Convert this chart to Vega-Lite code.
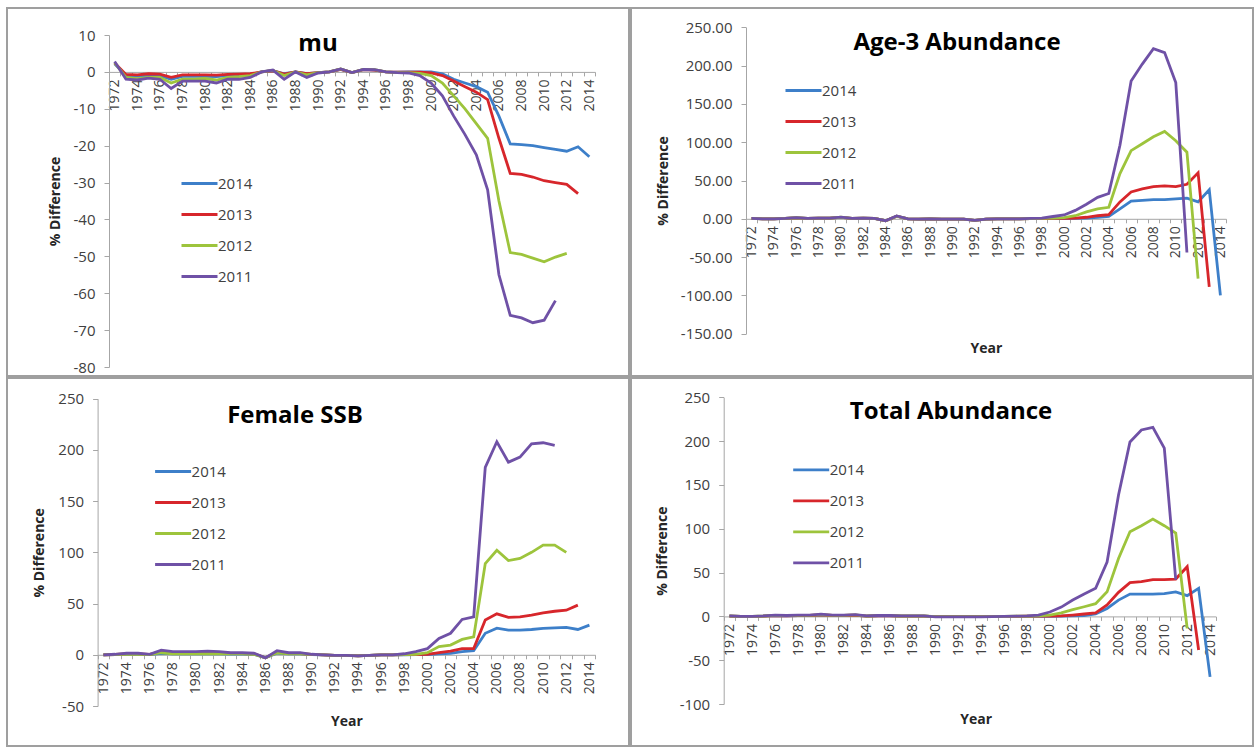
{
  "$schema": "https://vega.github.io/schema/vega-lite/v6.json",
  "padding": {"left": 6, "top": 7, "right": 0, "bottom": 0},
  "background": "white",
  "config": {
    "view": {"stroke": "#9f9f9f", "strokeWidth": 2},
    "font": "Open Sans",
    "axis": {"grid": false, "domainColor": "#a6a6a6", "tickColor": "#a6a6a6", "labelFont": "Open Sans", "labelColor": "#404040", "titleFont": "Open Sans", "titleFontWeight": "bold", "titleFontSize": 14, "titleColor": "#262626"},
    "axisY": {"tickSize": 5, "labelPadding": 9, "labelFontSize": 15, "titleBaseline": "middle"},
    "axisX": {"labelFontSize": 14},
    "legend": {"orient": "none", "title": null, "symbolType": "stroke", "symbolSize": 1296, "symbolStrokeWidth": 3, "labelFontSize": 15, "labelFont": "Open Sans", "labelColor": "#404040", "labelOffset": -1, "padding": 0, "rowPadding": 3},
    "title": {"font": "Open Sans", "fontSize": 24, "fontWeight": "bold", "color": "#000000", "frame": "group", "anchor": "middle", "baseline": "alphabetic"},
    "line": {"strokeWidth": 2.8}
  },
  "datasets": {
    "p1": [
      {"Year":1972,"2014":2.2,"2013":2.4,"2012":2.5,"2011":2.8},
      {"Year":1973,"2014":-1,"2013":-0.7,"2012":-1.5,"2011":-2},
      {"Year":1974,"2014":-1.2,"2013":-0.8,"2012":-1.8,"2011":-2.2},
      {"Year":1975,"2014":-1,"2013":-0.5,"2012":-1.5,"2011":-1.7},
      {"Year":1976,"2014":-1,"2013":-0.6,"2012":-1.5,"2011":-2},
      {"Year":1977,"2014":-2,"2013":-1.5,"2012":-3,"2011":-4.5},
      {"Year":1978,"2014":-1.2,"2013":-0.8,"2012":-2,"2011":-2.5},
      {"Year":1979,"2014":-1.2,"2013":-0.8,"2012":-2,"2011":-2.5},
      {"Year":1980,"2014":-1.2,"2013":-0.8,"2012":-1.8,"2011":-2.5},
      {"Year":1981,"2014":-1.3,"2013":-0.9,"2012":-2.2,"2011":-3},
      {"Year":1982,"2014":-1,"2013":-0.7,"2012":-1.5,"2011":-2},
      {"Year":1983,"2014":-1,"2013":-0.6,"2012":-1.3,"2011":-2},
      {"Year":1984,"2014":-0.8,"2013":-0.5,"2012":-1,"2011":-1.5},
      {"Year":1985,"2014":0,"2013":0,"2012":0,"2011":0},
      {"Year":1986,"2014":0.3,"2013":0.3,"2012":0.4,"2011":0.5},
      {"Year":1987,"2014":-0.5,"2013":-0.6,"2012":-1,"2011":-2},
      {"Year":1988,"2014":0,"2013":0,"2012":0,"2011":0},
      {"Year":1989,"2014":-0.5,"2013":-0.5,"2012":-0.8,"2011":-1.5},
      {"Year":1990,"2014":-0.2,"2013":-0.2,"2012":-0.2,"2011":-0.3},
      {"Year":1991,"2014":0,"2013":0,"2012":0,"2011":0},
      {"Year":1992,"2014":0.7,"2013":0.7,"2012":0.8,"2011":0.8},
      {"Year":1993,"2014":-0.2,"2013":-0.2,"2012":-0.2,"2011":-0.2},
      {"Year":1994,"2014":0.6,"2013":0.6,"2012":0.7,"2011":0.7},
      {"Year":1995,"2014":0.5,"2013":0.5,"2012":0.6,"2011":0.6},
      {"Year":1996,"2014":0,"2013":0,"2012":0,"2011":0},
      {"Year":1997,"2014":-0.1,"2013":-0.1,"2012":-0.2,"2011":-0.2},
      {"Year":1998,"2014":0,"2013":-0.1,"2012":-0.2,"2011":-0.3},
      {"Year":1999,"2014":0,"2013":-0.1,"2012":-0.4,"2011":-1},
      {"Year":2000,"2014":0,"2013":-0.3,"2012":-1,"2011":-3},
      {"Year":2001,"2014":-0.5,"2013":-1,"2012":-3,"2011":-6.5},
      {"Year":2002,"2014":-2,"2013":-2.5,"2012":-6.5,"2011":-12},
      {"Year":2003,"2014":-3,"2013":-4,"2012":-10,"2011":-17},
      {"Year":2004,"2014":-4,"2013":-5.5,"2012":-14,"2011":-22.5},
      {"Year":2005,"2014":-5.5,"2013":-7.5,"2012":-18,"2011":-32},
      {"Year":2006,"2014":-12,"2013":-18,"2012":-35,"2011":-55},
      {"Year":2007,"2014":-19.5,"2013":-27.5,"2012":-49,"2011":-66},
      {"Year":2008,"2014":-19.7,"2013":-27.8,"2012":-49.5,"2011":-66.7},
      {"Year":2009,"2014":-20,"2013":-28.5,"2012":-50.5,"2011":-68},
      {"Year":2010,"2014":-20.5,"2013":-29.5,"2012":-51.5,"2011":-67.3},
      {"Year":2011,"2014":-21,"2013":-30,"2012":-50.2,"2011":-62},
      {"Year":2012,"2014":-21.5,"2013":-30.5,"2012":-49.2},
      {"Year":2013,"2014":-20.3,"2013":-33},
      {"Year":2014,"2014":-23}
    ],
    "p2": [
      {"Year":1972,"2014":0.5,"2013":0.5,"2012":0.5,"2011":0.5},
      {"Year":1973,"2014":0,"2013":0,"2012":0,"2011":0},
      {"Year":1974,"2014":0,"2013":0,"2012":0,"2011":0},
      {"Year":1975,"2014":0.5,"2013":0.5,"2012":0.5,"2011":0.5},
      {"Year":1976,"2014":1.2,"2013":1.3,"2012":1.4,"2011":1.5},
      {"Year":1977,"2014":0.5,"2013":0.5,"2012":0.5,"2011":0.5},
      {"Year":1978,"2014":1,"2013":1,"2012":1,"2011":1},
      {"Year":1979,"2014":1,"2013":1,"2012":1,"2011":1},
      {"Year":1980,"2014":1.8,"2013":1.8,"2012":2,"2011":2.2},
      {"Year":1981,"2014":0.5,"2013":0.5,"2012":0.5,"2011":0.5},
      {"Year":1982,"2014":1,"2013":1,"2012":1,"2011":1},
      {"Year":1983,"2014":0.5,"2013":0.5,"2012":0.5,"2011":0.5},
      {"Year":1984,"2014":-2.5,"2013":-2.5,"2012":-2.5,"2011":-2.5},
      {"Year":1985,"2014":3.5,"2013":3.5,"2012":3.5,"2011":3.8},
      {"Year":1986,"2014":0,"2013":0,"2012":0,"2011":0},
      {"Year":1987,"2014":-0.5,"2013":-0.5,"2012":-0.5,"2011":-0.5},
      {"Year":1988,"2014":0,"2013":0,"2012":0,"2011":0},
      {"Year":1989,"2014":-0.5,"2013":-0.5,"2012":-0.5,"2011":-0.5},
      {"Year":1990,"2014":-0.5,"2013":-0.5,"2012":-0.5,"2011":-0.5},
      {"Year":1991,"2014":-0.5,"2013":-0.5,"2012":-0.5,"2011":-0.5},
      {"Year":1992,"2014":-2,"2013":-2,"2012":-2,"2011":-2},
      {"Year":1993,"2014":-0.5,"2013":-0.5,"2012":-0.5,"2011":-0.5},
      {"Year":1994,"2014":0,"2013":0,"2012":0,"2011":0},
      {"Year":1995,"2014":0,"2013":0,"2012":0,"2011":0},
      {"Year":1996,"2014":0,"2013":0,"2012":0,"2011":0},
      {"Year":1997,"2014":0.3,"2013":0.3,"2012":0.4,"2011":0.5},
      {"Year":1998,"2014":0.3,"2013":0.4,"2012":0.5,"2011":1},
      {"Year":1999,"2014":0.3,"2013":0.5,"2012":1,"2011":3},
      {"Year":2000,"2014":0.3,"2013":0.5,"2012":1.5,"2011":5},
      {"Year":2001,"2014":0.5,"2013":1,"2012":4,"2011":11},
      {"Year":2002,"2014":1,"2013":2,"2012":9,"2011":19},
      {"Year":2003,"2014":2,"2013":4,"2012":13,"2011":28},
      {"Year":2004,"2014":3,"2013":5.5,"2012":15,"2011":33},
      {"Year":2005,"2014":13,"2013":22,"2012":59,"2011":96},
      {"Year":2006,"2014":23,"2013":35,"2012":89,"2011":180},
      {"Year":2007,"2014":24,"2013":39,"2012":98,"2011":202},
      {"Year":2008,"2014":25,"2013":42,"2012":107,"2011":222},
      {"Year":2009,"2014":25,"2013":43,"2012":114,"2011":217},
      {"Year":2010,"2014":26,"2013":42,"2012":102,"2011":178},
      {"Year":2011,"2014":27,"2013":45,"2012":87,"2011":-44},
      {"Year":2012,"2014":22,"2013":60,"2012":-78},
      {"Year":2013,"2014":38,"2013":-89},
      {"Year":2014,"2014":-100}
    ],
    "p3": [
      {"Year":1972,"2014":0,"2013":0,"2012":0,"2011":0},
      {"Year":1973,"2014":0.2,"2013":0.3,"2012":0.3,"2011":0.5},
      {"Year":1974,"2014":0.5,"2013":0.8,"2012":0.5,"2011":1.5},
      {"Year":1975,"2014":0.5,"2013":0.8,"2012":0.5,"2011":1.5},
      {"Year":1976,"2014":0.2,"2013":0.3,"2012":0.2,"2011":0.5},
      {"Year":1977,"2014":1.5,"2013":3,"2012":2,"2011":4.5},
      {"Year":1978,"2014":0.8,"2013":1.5,"2012":1,"2011":3},
      {"Year":1979,"2014":0.8,"2013":1.5,"2012":1,"2011":3},
      {"Year":1980,"2014":0.8,"2013":1.5,"2012":1,"2011":3},
      {"Year":1981,"2014":1,"2013":1.8,"2012":1.2,"2011":3.5},
      {"Year":1982,"2014":0.8,"2013":1.5,"2012":1,"2011":3},
      {"Year":1983,"2014":0.6,"2013":1.2,"2012":0.8,"2011":2},
      {"Year":1984,"2014":0.6,"2013":1.2,"2012":0.8,"2011":2},
      {"Year":1985,"2014":0.5,"2013":1,"2012":0.5,"2011":1.5},
      {"Year":1986,"2014":-3,"2013":-3,"2012":-3,"2011":-3},
      {"Year":1987,"2014":1.5,"2013":2.5,"2012":2,"2011":4},
      {"Year":1988,"2014":0.8,"2013":1.5,"2012":1,"2011":2},
      {"Year":1989,"2014":0.8,"2013":1.2,"2012":1,"2011":2},
      {"Year":1990,"2014":0.2,"2013":0.3,"2012":0.3,"2011":0.5},
      {"Year":1991,"2014":0,"2013":0,"2012":0,"2011":0},
      {"Year":1992,"2014":-0.5,"2013":-0.5,"2012":-0.5,"2011":-0.5},
      {"Year":1993,"2014":-0.5,"2013":-0.5,"2012":-0.5,"2011":-0.5},
      {"Year":1994,"2014":-1,"2013":-1,"2012":-1,"2011":-1},
      {"Year":1995,"2014":-0.5,"2013":-0.5,"2012":-0.5,"2011":-0.5},
      {"Year":1996,"2014":0,"2013":0,"2012":0,"2011":0},
      {"Year":1997,"2014":0,"2013":0,"2012":0,"2011":0},
      {"Year":1998,"2014":0,"2013":0.2,"2012":0.3,"2011":1},
      {"Year":1999,"2014":0.2,"2013":0.3,"2012":0.5,"2011":3},
      {"Year":2000,"2014":0.3,"2013":0.5,"2012":2,"2011":6},
      {"Year":2001,"2014":1,"2013":2,"2012":8,"2011":16},
      {"Year":2002,"2014":1.3,"2013":3.5,"2012":9.5,"2011":21},
      {"Year":2003,"2014":3,"2013":6,"2012":15,"2011":34.5},
      {"Year":2004,"2014":4,"2013":6,"2012":17.5,"2011":37},
      {"Year":2005,"2014":21,"2013":34,"2012":89,"2011":183},
      {"Year":2006,"2014":26,"2013":40,"2012":102,"2011":208},
      {"Year":2007,"2014":24,"2013":36.5,"2012":92,"2011":188},
      {"Year":2008,"2014":24,"2013":37,"2012":94,"2011":193},
      {"Year":2009,"2014":24.7,"2013":38.7,"2012":100,"2011":206},
      {"Year":2010,"2014":25.7,"2013":41,"2012":107,"2011":207},
      {"Year":2011,"2014":26.3,"2013":42.5,"2012":107,"2011":204.5},
      {"Year":2012,"2014":26.7,"2013":43.5,"2012":100},
      {"Year":2013,"2014":24.7,"2013":48.5},
      {"Year":2014,"2014":29}
    ],
    "p4": [
      {"Year":1972,"2014":0.3,"2013":0.3,"2012":0.4,"2011":0.5},
      {"Year":1973,"2014":0,"2013":0,"2012":0,"2011":0},
      {"Year":1974,"2014":0,"2013":0,"2012":0,"2011":0},
      {"Year":1975,"2014":0.3,"2013":0.3,"2012":0.4,"2011":0.5},
      {"Year":1976,"2014":0.9,"2013":1,"2012":1.2,"2011":1.5},
      {"Year":1977,"2014":0.6,"2013":0.7,"2012":0.8,"2011":1},
      {"Year":1978,"2014":0.9,"2013":1,"2012":1.2,"2011":1.5},
      {"Year":1979,"2014":0.9,"2013":1,"2012":1.2,"2011":1.5},
      {"Year":1980,"2014":1.5,"2013":1.7,"2012":2,"2011":2.5},
      {"Year":1981,"2014":0.9,"2013":1,"2012":1.2,"2011":1.5},
      {"Year":1982,"2014":0.9,"2013":1,"2012":1.2,"2011":1.5},
      {"Year":1983,"2014":1.2,"2013":1.3,"2012":1.6,"2011":2},
      {"Year":1984,"2014":0.3,"2013":0.3,"2012":0.4,"2011":0.5},
      {"Year":1985,"2014":0.6,"2013":0.7,"2012":0.8,"2011":1},
      {"Year":1986,"2014":0.6,"2013":0.7,"2012":0.8,"2011":1},
      {"Year":1987,"2014":0.3,"2013":0.3,"2012":0.4,"2011":0.5},
      {"Year":1988,"2014":0.3,"2013":0.3,"2012":0.4,"2011":0.5},
      {"Year":1989,"2014":0.3,"2013":0.3,"2012":0.4,"2011":0.5},
      {"Year":1990,"2014":-0.3,"2013":-0.3,"2012":-0.4,"2011":-0.5},
      {"Year":1991,"2014":-0.3,"2013":-0.3,"2012":-0.4,"2011":-0.5},
      {"Year":1992,"2014":-0.3,"2013":-0.3,"2012":-0.4,"2011":-0.5},
      {"Year":1993,"2014":-0.3,"2013":-0.3,"2012":-0.4,"2011":-0.5},
      {"Year":1994,"2014":-0.3,"2013":-0.3,"2012":-0.4,"2011":-0.5},
      {"Year":1995,"2014":-0.2,"2013":-0.2,"2012":-0.2,"2011":-0.3},
      {"Year":1996,"2014":0,"2013":0,"2012":0,"2011":0},
      {"Year":1997,"2014":0.1,"2013":0.1,"2012":0.2,"2011":0.3},
      {"Year":1998,"2014":0.1,"2013":0.2,"2012":0.3,"2011":0.5},
      {"Year":1999,"2014":0,"2013":0.3,"2012":0.5,"2011":1.5},
      {"Year":2000,"2014":0,"2013":0.3,"2012":1.5,"2011":5},
      {"Year":2001,"2014":0.3,"2013":0.5,"2012":4,"2011":10.6},
      {"Year":2002,"2014":0.5,"2013":1.5,"2012":7.6,"2011":18.6},
      {"Year":2003,"2014":1,"2013":2.7,"2012":11,"2011":25.5},
      {"Year":2004,"2014":2.7,"2013":4,"2012":14.5,"2011":32},
      {"Year":2005,"2014":9,"2013":13,"2012":28,"2011":62},
      {"Year":2006,"2014":18.6,"2013":27.4,"2012":66,"2011":138.5},
      {"Year":2007,"2014":25.5,"2013":38.4,"2012":96.6,"2011":199},
      {"Year":2008,"2014":25.5,"2013":39.6,"2012":103.5,"2011":212.7},
      {"Year":2009,"2014":25.5,"2013":42,"2012":111,"2011":215.7},
      {"Year":2010,"2014":26,"2013":42,"2012":103.5,"2011":192},
      {"Year":2011,"2014":28,"2013":42.6,"2012":95,"2011":42},
      {"Year":2012,"2014":23.6,"2013":56.7,"2012":-13.7},
      {"Year":2013,"2014":32,"2013":-38.4},
      {"Year":2014,"2014":-69}
    ]
  },
  "columns": 2,
  "spacing": 2,
  "bounds": "flush",
  "concat": [
    {
      "width": 622, "height": 368,
      "data": {"name": "p1"},
      "transform": [{"fold": ["2014", "2013", "2012", "2011"], "as": ["Run", "Value"]}, {"filter": "isValid(datum.Value)"}],
      "title": {"text": "mu", "offset": -48, "dx": 0},
      "layer": [
        {
          "mark": {"type": "line"},
          "encoding": {
            "x": {"field": "Year", "type": "quantitative", "scale": {"domain": [1971.5, 2014.5], "range": [102, 588], "nice": false, "zero": false},
              "axis": {"orient": "bottom", "offset": -304.1, "values": [1972,1974,1976,1978,1980,1982,1984,1986,1988,1990,1992,1994,1996,1998,2000,2002,2004,2006,2008,2010,2012,2014], "format": "d", "labelAngle": 270, "tickSize": 0, "labelPadding": 7, "title": null}},
            "y": {"field": "Value", "type": "quantitative", "scale": {"domain": [-80, 10], "range": [359, 27], "nice": false, "zero": false},
              "axis": {"orient": "left", "offset": -102, "values": [-80,-70,-60,-50,-40,-30,-20,-10,0,10], "labelExpr": "replace(datum.label, '\u2212', '-')", "title": "% Difference", "titleX": -54}},
            "color": {"field": "Run", "type": "nominal", "scale": {"domain": ["2014", "2013", "2012", "2011"], "range": ["#3d7fc9", "#d7262b", "#9dc43c", "#6f51a6"]},
              "legend": {"legendX": 173, "legendY": 156, "rowPadding": 3}}
          }
        },
        {
          "mark": {"type": "line", "opacity": 0},
          "encoding": {
            "x": {"field": "Year", "type": "quantitative", "axis": {"orient": "bottom", "offset": -304.1, "values": [1971.5,1972.5,1973.5,1974.5,1975.5,1976.5,1977.5,1978.5,1979.5,1980.5,1981.5,1982.5,1983.5,1984.5,1985.5,1986.5,1987.5,1988.5,1989.5,1990.5,1991.5,1992.5,1993.5,1994.5,1995.5,1996.5,1997.5,1998.5,1999.5,2000.5,2001.5,2002.5,2003.5,2004.5,2005.5,2006.5,2007.5,2008.5,2009.5,2010.5,2011.5,2012.5,2013.5,2014.5], "labels": false, "domain": false, "tickSize": 4, "title": null}},
            "y": {"field": "Value", "type": "quantitative"}
          }
        }
      ],
      "resolve": {"axis": {"x": "independent"}}
    },
    {
      "width": 622, "height": 368,
      "data": {"name": "p2"},
      "transform": [{"fold": ["2014", "2013", "2012", "2011"], "as": ["Run", "Value"]}, {"filter": "isValid(datum.Value)"}],
      "title": {"text": "Age-3 Abundance", "offset": -47, "dx": 15},
      "layer": [
        {
          "mark": {"type": "line"},
          "encoding": {
            "x": {"field": "Year", "type": "quantitative", "scale": {"domain": [1971.5, 2014.5], "range": [115, 595], "nice": false, "zero": false},
              "axis": {"orient": "bottom", "offset": -157.2, "values": [1972,1974,1976,1978,1980,1982,1984,1986,1988,1990,1992,1994,1996,1998,2000,2002,2004,2006,2008,2010,2012,2014], "format": "d", "labelAngle": 270, "tickSize": 0, "labelPadding": 7, "title": "Year", "titleBaseline": "middle", "titleY": 130}},
            "y": {"field": "Value", "type": "quantitative", "scale": {"domain": [-150, 250], "range": [325.7, 19.3], "nice": false, "zero": false},
              "axis": {"orient": "left", "offset": -115, "values": [-150,-100,-50,0,50,100,150,200,250], "format": ".2f", "labelExpr": "replace(datum.label, '\u2212', '-')", "title": "% Difference", "titleX": -83}},
            "color": {"field": "Run", "type": "nominal", "scale": {"domain": ["2014", "2013", "2012", "2011"], "range": ["#3d7fc9", "#d7262b", "#9dc43c", "#6f51a6"]},
              "legend": {"legendX": 153, "legendY": 63, "rowPadding": 3}}
          }
        },
        {
          "mark": {"type": "line", "opacity": 0},
          "encoding": {
            "x": {"field": "Year", "type": "quantitative", "axis": {"orient": "bottom", "offset": -157.2, "values": [1971.5,1972.5,1973.5,1974.5,1975.5,1976.5,1977.5,1978.5,1979.5,1980.5,1981.5,1982.5,1983.5,1984.5,1985.5,1986.5,1987.5,1988.5,1989.5,1990.5,1991.5,1992.5,1993.5,1994.5,1995.5,1996.5,1997.5,1998.5,1999.5,2000.5,2001.5,2002.5,2003.5,2004.5,2005.5,2006.5,2007.5,2008.5,2009.5,2010.5,2011.5,2012.5,2013.5,2014.5], "labels": false, "domain": false, "tickSize": 4, "title": null}},
            "y": {"field": "Value", "type": "quantitative"}
          }
        }
      ],
      "resolve": {"axis": {"x": "independent"}}
    },
    {
      "width": 622, "height": 368,
      "data": {"name": "p3"},
      "transform": [{"fold": ["2014", "2013", "2012", "2011"], "as": ["Run", "Value"]}, {"filter": "isValid(datum.Value)"}],
      "title": {"text": "Female SSB", "offset": -50, "dx": -23},
      "layer": [
        {
          "mark": {"type": "line"},
          "encoding": {
            "x": {"field": "Year", "type": "quantitative", "scale": {"domain": [1971.5, 2014.5], "range": [90.6, 588.2], "nice": false, "zero": false},
              "axis": {"orient": "bottom", "offset": -91.2, "values": [1972,1974,1976,1978,1980,1982,1984,1986,1988,1990,1992,1994,1996,1998,2000,2002,2004,2006,2008,2010,2012,2014], "format": "d", "labelAngle": 270, "tickSize": 0, "labelPadding": 7, "title": "Year", "titleBaseline": "middle", "titleY": 67}},
            "y": {"field": "Value", "type": "quantitative", "scale": {"domain": [-50, 250], "range": [328, 20.7], "nice": false, "zero": false},
              "axis": {"orient": "left", "offset": -90.6, "values": [-50,0,50,100,150,200,250], "labelExpr": "replace(datum.label, '\u2212', '-')", "title": "% Difference", "titleX": -58.6}},
            "color": {"field": "Run", "type": "nominal", "scale": {"domain": ["2014", "2013", "2012", "2011"], "range": ["#3d7fc9", "#d7262b", "#9dc43c", "#6f51a6"]},
              "legend": {"legendX": 146.6, "legendY": 74, "rowPadding": 3}}
          }
        },
        {
          "mark": {"type": "line", "opacity": 0},
          "encoding": {
            "x": {"field": "Year", "type": "quantitative", "axis": {"orient": "bottom", "offset": -91.2, "values": [1971.5,1972.5,1973.5,1974.5,1975.5,1976.5,1977.5,1978.5,1979.5,1980.5,1981.5,1982.5,1983.5,1984.5,1985.5,1986.5,1987.5,1988.5,1989.5,1990.5,1991.5,1992.5,1993.5,1994.5,1995.5,1996.5,1997.5,1998.5,1999.5,2000.5,2001.5,2002.5,2003.5,2004.5,2005.5,2006.5,2007.5,2008.5,2009.5,2010.5,2011.5,2012.5,2013.5,2014.5], "labels": false, "domain": false, "tickSize": 4, "title": null}},
            "y": {"field": "Value", "type": "quantitative"}
          }
        }
      ],
      "resolve": {"axis": {"x": "independent"}}
    },
    {
      "width": 622, "height": 368,
      "data": {"name": "p4"},
      "transform": [{"fold": ["2014", "2013", "2012", "2011"], "as": ["Run", "Value"]}, {"filter": "isValid(datum.Value)"}],
      "title": {"text": "Total Abundance", "offset": -46, "dx": 9},
      "layer": [
        {
          "mark": {"type": "line"},
          "encoding": {
            "x": {"field": "Year", "type": "quantitative", "scale": {"domain": [1971.5, 2014.5], "range": [92.7, 584.8], "nice": false, "zero": false},
              "axis": {"orient": "bottom", "offset": -129.6, "values": [1972,1974,1976,1978,1980,1982,1984,1986,1988,1990,1992,1994,1996,1998,2000,2002,2004,2006,2008,2010,2012,2014], "format": "d", "labelAngle": 270, "tickSize": 0, "labelPadding": 7, "title": "Year", "titleBaseline": "middle", "titleY": 103, "titleX": 344.6}},
            "y": {"field": "Value", "type": "quantitative", "scale": {"domain": [-100, 250], "range": [326, 19.3], "nice": false, "zero": false},
              "axis": {"orient": "left", "offset": -92.7, "values": [-100,-50,0,50,100,150,200,250], "labelExpr": "replace(datum.label, '\u2212', '-')", "title": "% Difference", "titleX": -61.7}},
            "color": {"field": "Run", "type": "nominal", "scale": {"domain": ["2014", "2013", "2012", "2011"], "range": ["#3d7fc9", "#d7262b", "#9dc43c", "#6f51a6"]},
              "legend": {"legendX": 160.7, "legendY": 72.3, "rowPadding": 3}}
          }
        },
        {
          "mark": {"type": "line", "opacity": 0},
          "encoding": {
            "x": {"field": "Year", "type": "quantitative", "axis": {"orient": "bottom", "offset": -129.6, "values": [1971.5,1972.5,1973.5,1974.5,1975.5,1976.5,1977.5,1978.5,1979.5,1980.5,1981.5,1982.5,1983.5,1984.5,1985.5,1986.5,1987.5,1988.5,1989.5,1990.5,1991.5,1992.5,1993.5,1994.5,1995.5,1996.5,1997.5,1998.5,1999.5,2000.5,2001.5,2002.5,2003.5,2004.5,2005.5,2006.5,2007.5,2008.5,2009.5,2010.5,2011.5,2012.5,2013.5,2014.5], "labels": false, "domain": false, "tickSize": 4, "title": null}},
            "y": {"field": "Value", "type": "quantitative"}
          }
        }
      ],
      "resolve": {"axis": {"x": "independent"}}
    }
  ],
  "resolve": {"scale": {"color": "independent"}, "legend": {"color": "independent"}}
}
